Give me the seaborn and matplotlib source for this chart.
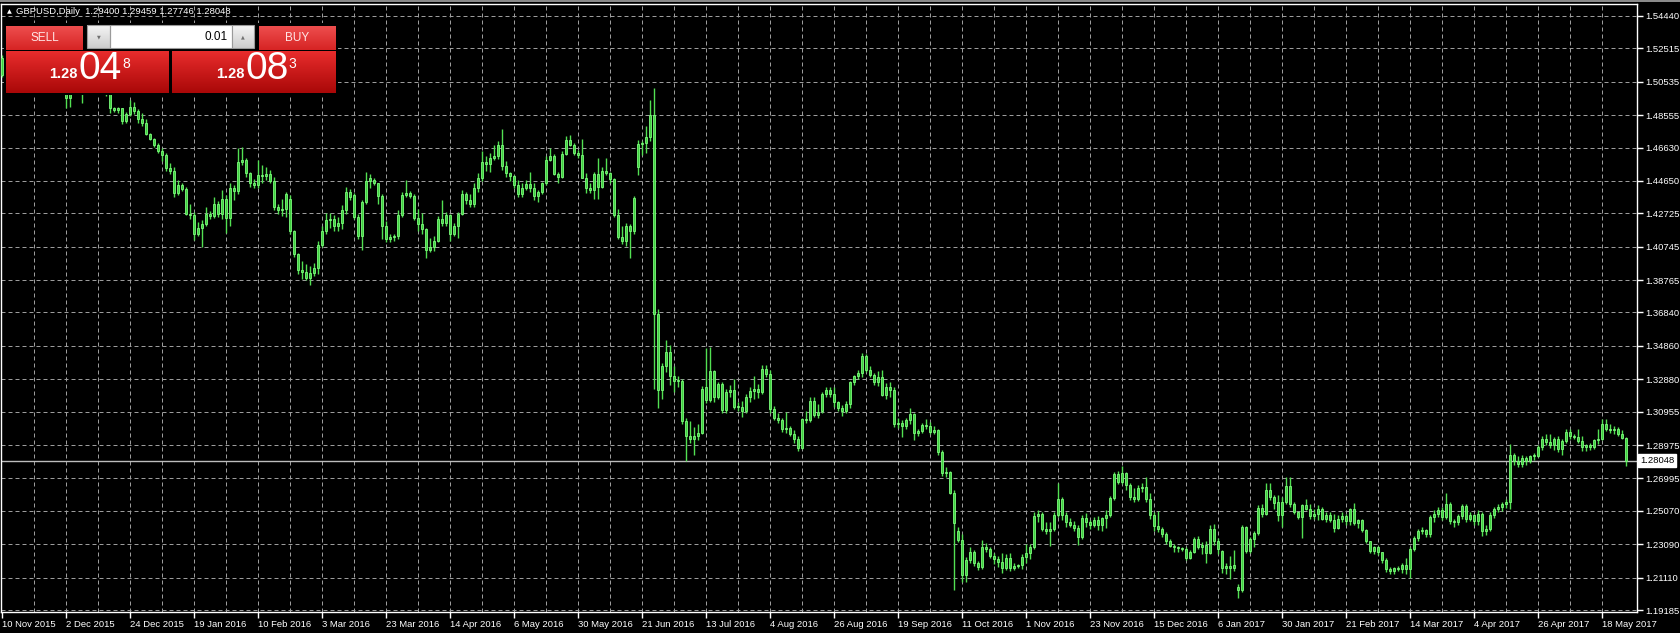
import numpy as np
import pandas as pd
import matplotlib
matplotlib.use("Agg")
import matplotlib.pyplot as plt
import matplotlib.transforms as mtransforms
from matplotlib.patches import Rectangle
import seaborn as sns

# ---------------- data (GBPUSD daily) ----------------
opens = [
1.5095,1.5195,1.5205,1.5230,1.5235,1.5210,1.5215,1.5250,1.5270,1.5190,
1.5135,1.5120,1.5165,1.5140,1.5040,1.5060,1.5040,1.4955,1.5085,1.5070,
1.5035,1.5005,1.5125,1.5160,1.5200,1.5175,1.5045,1.4985,1.4895,1.4885,
1.4895,1.4820,1.4860,1.4905,1.4880,1.4830,1.4810,1.4745,1.4715,1.4675,
1.4645,1.4620,1.4540,1.4525,1.4395,1.4440,1.4415,1.4270,1.4265,1.4150,
1.4185,1.4210,1.4270,1.4255,1.4330,1.4270,1.4360,1.4245,1.4420,1.4405,
1.4575,1.4590,1.4510,1.4450,1.4440,1.4500,1.4495,1.4505,1.4465,1.4310,
1.4290,1.4300,1.4360,1.4165,1.4030,1.3935,1.3925,1.3890,1.3920,1.3950,
1.4085,1.4170,1.4230,1.4240,1.4200,1.4215,1.4290,1.4400,1.4380,1.4250,
1.4135,1.4340,1.4465,1.4470,1.4450,1.4375,1.4200,1.4120,1.4130,1.4135,
1.4265,1.4380,1.4395,1.4375,1.4245,1.4210,1.4180,1.4055,1.4075,1.4110,
1.4240,1.4215,1.4260,1.4150,1.4195,1.4270,1.4385,1.4350,1.4330,1.4420,
1.4485,1.4575,1.4565,1.4600,1.4615,1.4680,1.4555,1.4510,1.4495,1.4440,
1.4385,1.4420,1.4445,1.4420,1.4375,1.4400,1.4450,1.4590,1.4615,1.4505,
1.4490,1.4625,1.4705,1.4680,1.4630,1.4620,1.4485,1.4420,1.4410,1.4505,
1.4430,1.4525,1.4510,1.4475,1.4260,1.4130,1.4110,1.4195,1.4170,1.4550,
1.4685,1.4690,1.4725,1.4855,1.3675,1.3225,1.3365,1.3450,1.3310,1.3280,
1.3275,1.3040,1.2950,1.2935,1.2950,1.2970,1.3240,1.3165,1.3335,1.3185,
1.3260,1.3105,1.3215,1.3225,1.3125,1.3125,1.3100,1.3185,1.3220,1.3230,
1.3210,1.3350,1.3320,1.3110,1.3060,1.3045,1.2990,1.3000,1.2965,1.2935,
1.2880,1.3050,1.3045,1.3160,1.3075,1.3100,1.3200,1.3225,1.3200,1.3150,
1.3115,1.3100,1.3140,1.3270,1.3305,1.3325,1.3425,1.3345,1.3315,1.3270,
1.3300,1.3195,1.3240,1.3225,1.3025,1.3030,1.3010,1.3045,1.3080,1.2970,
1.2980,1.3015,1.3010,1.2975,1.2985,1.2855,1.2730,1.2740,1.2615,1.2390,
1.2335,1.2125,1.2215,1.2265,1.2195,1.2175,1.2290,1.2280,1.2240,1.2220,
1.2205,1.2165,1.2230,1.2170,1.2180,1.2185,1.2235,1.2255,1.2295,1.2475,
1.2490,1.2400,1.2385,1.2400,1.2480,1.2575,1.2480,1.2440,1.2425,1.2405,
1.2350,1.2465,1.2440,1.2425,1.2455,1.2420,1.2465,1.2485,1.2585,1.2725,
1.2680,1.2730,1.2660,1.2590,1.2580,1.2640,1.2650,1.2580,1.2480,1.2415,
1.2400,1.2370,1.2325,1.2300,1.2290,1.2285,1.2280,1.2225,1.2265,1.2340,
1.2290,1.2305,1.2255,1.2400,1.2330,1.2270,1.2165,1.2180,1.2165,1.2055,
1.2035,1.2410,1.2270,1.2340,1.2375,1.2525,1.2490,1.2630,1.2590,1.2560,
1.2480,1.2560,1.2655,1.2550,1.2500,1.2470,1.2540,1.2520,1.2475,1.2490,
1.2520,1.2460,1.2485,1.2450,1.2405,1.2460,1.2475,1.2445,1.2515,1.2435,
1.2450,1.2395,1.2325,1.2270,1.2290,1.2260,1.2215,1.2160,1.2150,1.2170,
1.2160,1.2185,1.2160,1.2280,1.2345,1.2390,1.2395,1.2370,1.2470,1.2490,
1.2510,1.2470,1.2550,1.2445,1.2440,1.2475,1.2535,1.2460,1.2480,1.2445,
1.2490,1.2385,1.2400,1.2480,1.2520,1.2530,1.2545,1.2560,1.2840,1.2800,
1.2785,1.2820,1.2800,1.2830,1.2835,1.2885,1.2935,1.2915,1.2900,1.2935,
1.2875,1.2920,1.2975,1.2950,1.2945,1.2920,1.2885,1.2895,1.2885,1.2925,
1.2935,1.3025,1.2995,1.2985,1.2990,1.2960,1.29400]

highs = [
1.5210,1.5235,1.5245,1.5260,1.5255,1.5240,1.5270,1.5335,1.5280,1.5200,
1.5180,1.5190,1.5175,1.5150,1.5075,1.5070,1.5085,1.5135,1.5110,1.5090,
1.5045,1.5135,1.5175,1.5215,1.5240,1.5185,1.5060,1.4995,1.4905,1.4905,
1.4900,1.4875,1.4945,1.4935,1.4890,1.4865,1.4835,1.4750,1.4720,1.4690,
1.4660,1.4630,1.4570,1.4550,1.4470,1.4450,1.4430,1.4330,1.4280,1.4220,
1.4230,1.4310,1.4285,1.4370,1.4345,1.4410,1.4380,1.4450,1.4440,1.4660,
1.4665,1.4600,1.4520,1.4475,1.4590,1.4560,1.4545,1.4530,1.4490,1.4330,
1.4360,1.4400,1.4380,1.4175,1.4035,1.3990,1.3970,1.3960,1.3975,1.4110,
1.4200,1.4275,1.4275,1.4260,1.4250,1.4320,1.4430,1.4415,1.4395,1.4270,
1.4350,1.4515,1.4505,1.4480,1.4455,1.4390,1.4225,1.4150,1.4150,1.4290,
1.4400,1.4470,1.4405,1.4390,1.4300,1.4275,1.4185,1.4125,1.4135,1.4255,
1.4350,1.4280,1.4270,1.4215,1.4280,1.4410,1.4400,1.4390,1.4450,1.4510,
1.4645,1.4610,1.4630,1.4680,1.4700,1.4770,1.4580,1.4520,1.4500,1.4470,
1.4450,1.4470,1.4515,1.4455,1.4410,1.4460,1.4610,1.4660,1.4625,1.4520,
1.4640,1.4730,1.4740,1.4690,1.4650,1.4715,1.4510,1.4455,1.4515,1.4600,
1.4550,1.4600,1.4520,1.4480,1.4300,1.4200,1.4215,1.4210,1.4375,1.4705,
1.4700,1.4790,1.4945,1.5015,1.3705,1.3385,1.3520,1.3490,1.3365,1.3305,
1.3290,1.3060,1.3040,1.3005,1.3020,1.3245,1.3475,1.3480,1.3345,1.3270,
1.3270,1.3230,1.3255,1.3290,1.3150,1.3160,1.3200,1.3240,1.3305,1.3260,
1.3370,1.3375,1.3345,1.3130,1.3085,1.3055,1.3095,1.3010,1.2985,1.2950,
1.3060,1.3100,1.3185,1.3185,1.3140,1.3210,1.3240,1.3240,1.3240,1.3160,
1.3135,1.3160,1.3280,1.3315,1.3345,1.3445,1.3440,1.3365,1.3325,1.3335,
1.3340,1.3265,1.3270,1.3240,1.3055,1.3045,1.3055,1.3115,1.3090,1.2990,
1.3030,1.3050,1.3035,1.3010,1.2990,1.2870,1.2765,1.2745,1.2630,1.2410,
1.2370,1.2235,1.2290,1.2275,1.2210,1.2335,1.2315,1.2295,1.2255,1.2240,
1.2255,1.2250,1.2255,1.2195,1.2190,1.2250,1.2310,1.2310,1.2500,1.2510,
1.2500,1.2440,1.2440,1.2500,1.2675,1.2590,1.2500,1.2465,1.2445,1.2420,
1.2480,1.2495,1.2455,1.2470,1.2475,1.2470,1.2510,1.2595,1.2740,1.2745,
1.2775,1.2740,1.2675,1.2640,1.2660,1.2670,1.2710,1.2615,1.2500,1.2505,
1.2410,1.2380,1.2340,1.2310,1.2300,1.2290,1.2290,1.2275,1.2350,1.2360,
1.2320,1.2325,1.2420,1.2430,1.2345,1.2275,1.2200,1.2240,1.2275,1.2075,
1.2420,1.2415,1.2350,1.2390,1.2540,1.2545,1.2670,1.2675,1.2600,1.2600,
1.2590,1.2705,1.2710,1.2560,1.2505,1.2550,1.2580,1.2545,1.2515,1.2540,
1.2530,1.2500,1.2500,1.2490,1.2480,1.2500,1.2490,1.2525,1.2555,1.2460,
1.2460,1.2400,1.2330,1.2300,1.2300,1.2265,1.2225,1.2175,1.2175,1.2180,
1.2195,1.2230,1.2295,1.2360,1.2400,1.2410,1.2400,1.2480,1.2510,1.2530,
1.2530,1.2610,1.2560,1.2460,1.2490,1.2545,1.2550,1.2500,1.2490,1.2510,
1.2500,1.2420,1.2500,1.2530,1.2545,1.2560,1.2580,1.2905,1.2850,1.2830,
1.2840,1.2835,1.2840,1.2850,1.2900,1.2950,1.2965,1.2960,1.2945,1.2950,
1.2935,1.2990,1.2990,1.2965,1.2990,1.2950,1.2905,1.2910,1.2935,1.2990,
1.3050,1.3050,1.3020,1.3010,1.3005,1.2985,1.29459]

lows = [
1.5080,1.5160,1.5180,1.5190,1.5170,1.5175,1.5200,1.5235,1.5180,1.5120,
1.5105,1.5110,1.5120,1.5025,1.5015,1.5020,1.4895,1.4905,1.5005,1.5010,
1.4930,1.4990,1.5075,1.5140,1.5140,1.5020,1.4970,1.4870,1.4875,1.4865,
1.4805,1.4810,1.4850,1.4860,1.4810,1.4790,1.4735,1.4705,1.4665,1.4630,
1.4580,1.4525,1.4505,1.4370,1.4380,1.4405,1.4260,1.4240,1.4115,1.4140,
1.4075,1.4195,1.4240,1.4245,1.4250,1.4240,1.4155,1.4200,1.4350,1.4385,
1.4560,1.4490,1.4430,1.4420,1.4420,1.4450,1.4470,1.4455,1.4290,1.4270,
1.4255,1.4250,1.4150,1.4015,1.3915,1.3880,1.3875,1.3845,1.3900,1.3915,
1.4075,1.4150,1.4185,1.4165,1.4170,1.4180,1.4270,1.4350,1.4240,1.4120,
1.4055,1.4325,1.4420,1.4440,1.4330,1.4120,1.4105,1.4100,1.4110,1.4120,
1.4250,1.4370,1.4365,1.4230,1.4170,1.4150,1.4005,1.4045,1.4050,1.4100,
1.4200,1.4200,1.4110,1.4140,1.4125,1.4260,1.4330,1.4310,1.4310,1.4400,
1.4465,1.4525,1.4520,1.4590,1.4595,1.4530,1.4490,1.4465,1.4420,1.4370,
1.4370,1.4410,1.4400,1.4350,1.4340,1.4385,1.4440,1.4585,1.4500,1.4450,
1.4480,1.4620,1.4670,1.4620,1.4600,1.4480,1.4395,1.4395,1.4355,1.4355,
1.4420,1.4500,1.4450,1.4250,1.4120,1.4090,1.4080,1.4010,1.4150,1.4500,
1.4620,1.4630,1.4700,1.3230,1.3120,1.3170,1.3330,1.3255,1.3210,1.3240,
1.3025,1.2800,1.2910,1.2840,1.2930,1.2960,1.3145,1.3150,1.3150,1.3170,
1.3090,1.3090,1.3180,1.3110,1.3100,1.3065,1.3090,1.3150,1.3170,1.3175,
1.3200,1.3300,1.3085,1.3045,1.3030,1.2975,1.2970,1.2950,1.2910,1.2865,
1.2875,1.3030,1.3035,1.3065,1.3060,1.3090,1.3185,1.3185,1.3125,1.3100,
1.3070,1.3085,1.3120,1.3255,1.3290,1.3300,1.3330,1.3300,1.3255,1.3245,
1.3190,1.3170,1.3180,1.3005,1.3000,1.2945,1.2990,1.3020,1.2930,1.2950,
1.2970,1.2990,1.2960,1.2960,1.2840,1.2715,1.2705,1.2605,1.2040,1.2320,
1.2085,1.2085,1.2195,1.2180,1.2155,1.2160,1.2265,1.2225,1.2190,1.2175,
1.2140,1.2155,1.2150,1.2155,1.2170,1.2160,1.2200,1.2220,1.2280,1.2440,
1.2385,1.2370,1.2300,1.2385,1.2470,1.2455,1.2410,1.2410,1.2385,1.2305,
1.2340,1.2410,1.2400,1.2410,1.2395,1.2390,1.2405,1.2470,1.2570,1.2665,
1.2665,1.2630,1.2570,1.2560,1.2565,1.2620,1.2560,1.2460,1.2390,1.2380,
1.2350,1.2310,1.2290,1.2265,1.2265,1.2270,1.2215,1.2220,1.2255,1.2280,
1.2250,1.2200,1.2250,1.2305,1.2250,1.2140,1.2135,1.2100,1.2150,1.1990,
1.2025,1.2255,1.2255,1.2290,1.2365,1.2470,1.2485,1.2570,1.2515,1.2445,
1.2410,1.2550,1.2530,1.2490,1.2460,1.2345,1.2510,1.2460,1.2460,1.2450,
1.2450,1.2440,1.2440,1.2380,1.2400,1.2440,1.2420,1.2420,1.2420,1.2405,
1.2380,1.2315,1.2255,1.2250,1.2245,1.2200,1.2145,1.2135,1.2135,1.2150,
1.2140,1.2135,1.2110,1.2270,1.2330,1.2370,1.2350,1.2350,1.2440,1.2470,
1.2455,1.2460,1.2430,1.2410,1.2420,1.2460,1.2440,1.2445,1.2420,1.2420,
1.2360,1.2365,1.2390,1.2465,1.2500,1.2505,1.2525,1.2515,1.2780,1.2765,
1.2770,1.2780,1.2790,1.2810,1.2825,1.2870,1.2900,1.2880,1.2870,1.2855,
1.2840,1.2910,1.2935,1.2935,1.2910,1.2860,1.2860,1.2870,1.2875,1.2905,
1.2925,1.2980,1.2970,1.2965,1.2950,1.2935,1.27746]

closes = [
1.5195,1.5205,1.5230,1.5235,1.5210,1.5215,1.5250,1.5270,1.5190,1.5135,
1.5120,1.5165,1.5140,1.5040,1.5060,1.5040,1.4955,1.5085,1.5070,1.5035,
1.5005,1.5125,1.5160,1.5200,1.5175,1.5045,1.4985,1.4895,1.4885,1.4895,
1.4820,1.4860,1.4905,1.4880,1.4830,1.4810,1.4745,1.4715,1.4675,1.4645,
1.4620,1.4540,1.4525,1.4395,1.4440,1.4415,1.4270,1.4265,1.4150,1.4185,
1.4210,1.4270,1.4255,1.4330,1.4270,1.4360,1.4245,1.4420,1.4405,1.4575,
1.4590,1.4510,1.4450,1.4440,1.4500,1.4495,1.4505,1.4465,1.4310,1.4290,
1.4300,1.4390,1.4165,1.4030,1.3935,1.3925,1.3890,1.3920,1.3950,1.4085,
1.4170,1.4230,1.4240,1.4200,1.4215,1.4290,1.4400,1.4370,1.4250,1.4135,
1.4340,1.4465,1.4480,1.4450,1.4375,1.4200,1.4120,1.4130,1.4135,1.4265,
1.4380,1.4395,1.4375,1.4245,1.4210,1.4180,1.4055,1.4075,1.4110,1.4240,
1.4215,1.4260,1.4150,1.4195,1.4270,1.4385,1.4350,1.4330,1.4420,1.4485,
1.4575,1.4565,1.4600,1.4615,1.4680,1.4555,1.4510,1.4495,1.4440,1.4385,
1.4420,1.4445,1.4420,1.4375,1.4400,1.4450,1.4590,1.4615,1.4505,1.4490,
1.4625,1.4705,1.4680,1.4630,1.4620,1.4485,1.4420,1.4410,1.4505,1.4430,
1.4525,1.4510,1.4475,1.4260,1.4130,1.4110,1.4195,1.4170,1.4365,1.4685,
1.4690,1.4725,1.4855,1.3675,1.3225,1.3365,1.3450,1.3310,1.3280,1.3275,
1.3040,1.2950,1.2935,1.2950,1.2970,1.3230,1.3165,1.3335,1.3180,1.3260,
1.3105,1.3215,1.3225,1.3125,1.3125,1.3100,1.3185,1.3220,1.3230,1.3210,
1.3350,1.3320,1.3110,1.3060,1.3045,1.2990,1.3000,1.2965,1.2935,1.2880,
1.3050,1.3045,1.3160,1.3075,1.3095,1.3200,1.3225,1.3200,1.3150,1.3115,
1.3100,1.3140,1.3270,1.3305,1.3325,1.3425,1.3345,1.3315,1.3270,1.3300,
1.3195,1.3240,1.3225,1.3025,1.3030,1.3010,1.3045,1.3080,1.2970,1.2980,
1.3015,1.3010,1.2975,1.2985,1.2855,1.2730,1.2740,1.2615,1.2435,1.2335,
1.2125,1.2215,1.2265,1.2195,1.2175,1.2290,1.2280,1.2240,1.2220,1.2205,
1.2165,1.2230,1.2170,1.2180,1.2185,1.2235,1.2255,1.2295,1.2475,1.2490,
1.2400,1.2385,1.2400,1.2480,1.2575,1.2480,1.2440,1.2425,1.2405,1.2350,
1.2465,1.2440,1.2425,1.2455,1.2420,1.2465,1.2485,1.2585,1.2725,1.2680,
1.2730,1.2660,1.2590,1.2580,1.2640,1.2650,1.2580,1.2480,1.2415,1.2400,
1.2370,1.2325,1.2300,1.2290,1.2285,1.2280,1.2225,1.2265,1.2340,1.2290,
1.2305,1.2255,1.2400,1.2330,1.2280,1.2165,1.2180,1.2165,1.2185,1.2035,
1.2410,1.2270,1.2340,1.2375,1.2525,1.2490,1.2630,1.2590,1.2555,1.2480,
1.2560,1.2655,1.2550,1.2500,1.2470,1.2540,1.2520,1.2475,1.2490,1.2520,
1.2460,1.2485,1.2450,1.2405,1.2460,1.2475,1.2445,1.2515,1.2435,1.2450,
1.2395,1.2325,1.2270,1.2290,1.2260,1.2215,1.2160,1.2150,1.2170,1.2160,
1.2185,1.2160,1.2280,1.2345,1.2390,1.2395,1.2370,1.2470,1.2490,1.2510,
1.2470,1.2550,1.2445,1.2440,1.2475,1.2535,1.2460,1.2480,1.2445,1.2490,
1.2385,1.2400,1.2480,1.2520,1.2530,1.2545,1.2560,1.2840,1.2800,1.2785,
1.2820,1.2800,1.2830,1.2835,1.2885,1.2935,1.2915,1.2900,1.2935,1.2875,
1.2920,1.2975,1.2950,1.2945,1.2920,1.2885,1.2895,1.2885,1.2925,1.2935,
1.3025,1.2995,1.2985,1.2990,1.2960,1.2940,1.28048]

date_labels = ["10 Nov 2015", "2 Dec 2015", "24 Dec 2015", "19 Jan 2016", "10 Feb 2016",
               "3 Mar 2016", "23 Mar 2016", "14 Apr 2016", "6 May 2016", "30 May 2016",
               "21 Jun 2016", "13 Jul 2016", "4 Aug 2016", "26 Aug 2016", "19 Sep 2016",
               "11 Oct 2016", "1 Nov 2016", "23 Nov 2016", "15 Dec 2016", "6 Jan 2017",
               "30 Jan 2017", "21 Feb 2017", "14 Mar 2017", "4 Apr 2017", "26 Apr 2017",
               "18 May 2017"]
price_ticks = [1.54440, 1.52515, 1.50535, 1.48555, 1.46630, 1.44650, 1.42725, 1.40745,
               1.38765, 1.36840, 1.34860, 1.32880, 1.30955, 1.28975, 1.26995, 1.25070,
               1.23090, 1.21110, 1.19185]
last_price = 1.28048
symbol_line = "GBPUSD,Daily  1.29400 1.29459 1.27746 1.28048"
lot_size = "0.01"
bid_parts = ["1.28", "04", "8"]
ask_parts = ["1.28", "08", "3"]

# ---------------- style ----------------
sns.set_theme(style="dark", rc={"axes.facecolor": "black", "figure.facecolor": "black",
                                "axes.grid": False})
plt.rcParams['font.family'] = ['Liberation Sans', 'DejaVu Sans']

W, H = 1681, 633
L_PX, R_PX, T_PX, B_PX = 1, 1637, 4, 612
fig = plt.figure(figsize=(W / 100, H / 100), dpi=100, facecolor='black')
ax = fig.add_axes([L_PX / W, 1 - B_PX / H, (R_PX - L_PX) / W, (B_PX - T_PX) / H])
ax.set_facecolor('black')

n = min(len(opens), len(highs), len(lows), len(closes))
df = pd.DataFrame({"bar": np.arange(n), "open": opens[:n], "high": highs[:n],
                   "low": lows[:n], "close": closes[:n]})

# price <-> pixel scale taken from the axis tick spacing
ppx = (price_ticks[0] - price_ticks[-1]) / (610.0 - 15.9)
y_top = price_ticks[0] + (15.9 - T_PX) * ppx
y_bot = price_ticks[-1] - (B_PX - 610.0) * ppx

GRID = '#9c9c9c'
for v in price_ticks:
    ax.axhline(v, color=GRID, lw=0.72, ls=(0, (4, 3)), zorder=1)
for b in range(8, 401, 8):
    ax.axvline(b, color=GRID, lw=0.72, ls=(0, (4, 3)), zorder=1)

ax.axhline(last_price, color='#bdbdbd', lw=1.0, zorder=2)

GREEN = '#52e052'
ax.vlines(df["bar"], df["low"], df["high"], color=GREEN, lw=1.0, zorder=3)
body_low = np.minimum(df["open"], df["close"])
body_h = np.maximum(np.abs(df["close"] - df["open"]), 0.0006)
ax.bar(df["bar"], body_h, bottom=body_low, width=0.72, color='#3fcf3f',
       edgecolor='#7dfa7d', linewidth=0.6, zorder=4)

ax.set_xlim(-0.25, 408.75)
ax.set_ylim(y_bot, y_top)

for s in ax.spines.values():
    s.set_color('white')
    s.set_linewidth(1.0)
    s.set_visible(True)

ax.yaxis.tick_right()
ax.set_yticks(price_ticks)
ax.set_yticklabels([f"{v:.5f}" for v in price_ticks])
ax.set_xticks(list(range(0, 16 * len(date_labels), 16)))
ax.set_xticklabels(date_labels, ha='left')
ax.tick_params(axis='y', which='both', right=True, left=False, colors='white',
               length=4, width=1, labelsize=6.8, pad=2)
ax.tick_params(axis='x', which='both', bottom=True, colors='white',
               length=4, width=1, labelsize=6.8, pad=2)
ax.set_xlabel("")
ax.set_ylabel("")

# last price marker
trans = mtransforms.blended_transform_factory(ax.transAxes, ax.transData)
off = mtransforms.ScaledTranslation(3 / 100, 0, fig.dpi_scale_trans)
ax.text(1.0, last_price, f"{last_price:.5f}", transform=trans + off, ha='left', va='center',
        fontsize=6.8, color='black', zorder=10, clip_on=False,
        bbox=dict(boxstyle='square,pad=0.18', fc='white', ec='white'))

# ---------------- overlay: title and trade panel ----------------
ov = fig.add_axes([0, 0, 1, 1], zorder=20)
ov.patch.set_alpha(0)
ov.axis('off')


def grad_rect(x0, y0, x1, y1, c_top, c_bot, edge=None):
    t = np.linspace(0, 1, 32)[:, None]
    top = np.array(c_top) / 255.0
    bot = np.array(c_bot) / 255.0
    img = (top[None, None, :] * (1 - t[:, :, None]) + bot[None, None, :] * t[:, :, None])
    ov.imshow(img, extent=(x0, x1, y1, y0), origin='upper', aspect='auto',
              interpolation='bilinear', zorder=2)
    if edge is not None:
        ov.add_patch(Rectangle((x0, y0), x1 - x0, y1 - y0, fill=False, ec=edge, lw=0.8, zorder=3))


ov.add_patch(Rectangle((4, 23), 334, 72, fc='black', ec='none', zorder=1))
ov.text(7, 12, "\u25B2", fontsize=4.5, color='white', ha='left', va='center',
        family=['DejaVu Sans'])
ov.text(16, 12, symbol_line, fontsize=6.8, color='white', ha='left', va='center')

# SELL / BUY buttons
grad_rect(6, 26, 83, 50, (238, 78, 78), (214, 36, 36))
grad_rect(259, 26, 336, 50, (238, 78, 78), (214, 36, 36))
ov.text(44.5, 38, "SELL", fontsize=8.5, color='#ffe6e6', ha='center', va='center')
ov.text(297.5, 38, "BUY", fontsize=8.5, color='#ffe6e6', ha='center', va='center')

# lot size spinner
grad_rect(87, 25, 110, 48, (245, 245, 245), (205, 205, 205), edge='#9a9a9a')
ov.add_patch(Rectangle((110, 25), 122, 23, fc='white', ec='#9a9a9a', lw=0.8, zorder=2))
grad_rect(232, 25, 254, 48, (245, 245, 245), (205, 205, 205), edge='#9a9a9a')
ov.text(98.5, 36.5, "\u25BC", fontsize=3.5, color='#707070', ha='center', va='center',
        family=['DejaVu Sans'], zorder=4)
ov.text(243, 36.5, "\u25B2", fontsize=3.5, color='#707070', ha='center', va='center',
        family=['DejaVu Sans'], zorder=4)
ov.text(228, 37, lot_size, fontsize=8.5, color='black', ha='right', va='center', zorder=4)

# price boxes
grad_rect(6, 51, 169, 93, (232, 44, 44), (170, 8, 8))
grad_rect(172, 51, 336, 93, (232, 44, 44), (170, 8, 8))
narrow = ['Liberation Sans Narrow', 'Liberation Sans', 'DejaVu Sans']
for parts, cx in ((bid_parts, 0), (ask_parts, 166.5)):
    ov.text(63.5 + cx, 74.5, parts[0], fontsize=10.5, fontweight='bold', color='white',
            ha='center', va='center', zorder=4)
    ov.text(100.5 + cx, 69, parts[1], fontsize=28, color='white', ha='center', va='center',
            family=narrow, zorder=4)
    ov.text(126 + cx, 64, parts[2], fontsize=10, color='white', ha='center', va='center',
            zorder=4)

# thin window border at the very top
ov.add_patch(Rectangle((0, 0), W, 1.5, fc='#8a8a8a', ec='none', zorder=1))

ov.set_xlim(0, W)
ov.set_ylim(H, 0)

fig.savefig("out.png", dpi=100, facecolor='black')
